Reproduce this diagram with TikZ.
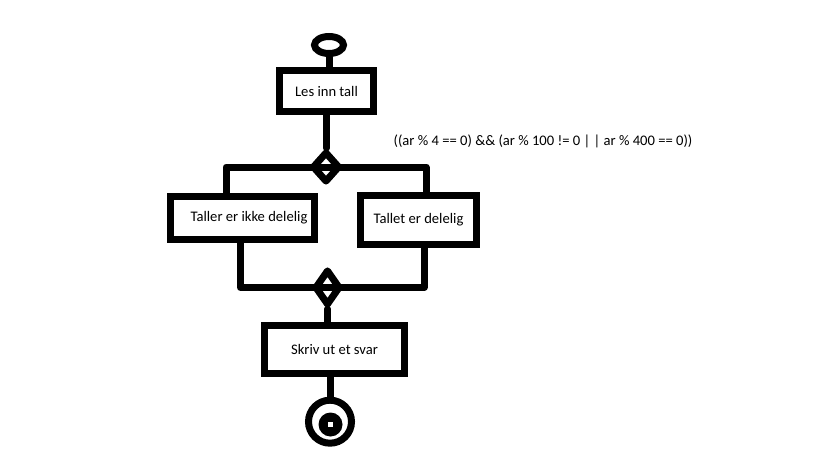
\documentclass[tikz,border=0pt]{standalone}
\usepackage{fontspec}
\setmainfont{Carlito}
\usetikzlibrary{shapes.geometric}
\begin{document}
\begin{tikzpicture}[x=1pt,y=-1pt,
  flow/.style={line width=7pt, line join=round, line cap=round},
  box/.style={draw, rectangle, line width=7pt, inner sep=0pt, font=\fontsize{14.6}{17}\selectfont},
  dia/.style={draw, diamond, line width=7pt, line join=round, inner sep=0pt},
  lbl/.style={font=\fontsize{14.6}{17}\selectfont, inner sep=0pt}]
\useasboundingbox[fill=white] (0,0) rectangle (819,460);
\node[draw, ellipse, line width=7pt, minimum width=29pt, minimum height=17pt, inner sep=0pt] (start) at (329,45) {};
\node[box, minimum width=94pt, minimum height=41pt] (les) at (326.5,91) {Les inn tall};
\node[dia, minimum width=28pt, minimum height=31pt] (d1) at (326,167) {};
\node[box, minimum width=144pt, minimum height=43pt] (lb) at (242.5,218) {\hspace{13pt}Taller er ikke delelig};
\node[box, minimum width=116pt, minimum height=49pt] (rb) at (418.5,220) {Tallet er delelig};
\node[dia, minimum width=26pt, minimum height=36pt] (d2) at (327.5,287.5) {};
\node[box, minimum width=140pt, minimum height=48pt] (sk) at (334.5,349.5) {Skriv ut et svar\hspace{6pt}};
\node[draw, circle, line width=7pt, minimum size=43pt, inner sep=0pt] (end) at (330,421.7) {};
\node[circle, fill=black, minimum size=24pt, inner sep=0pt] (endin) at (330.5,424.5) {};
\node[rectangle, fill=white, minimum width=5pt, minimum height=5pt, inner sep=0pt] (enddot) at (330.5,424) {};
\node[lbl] (cond) at (543,141) {((ar \% 4 == 0) \&\& (ar \% 100 != 0 | | ar \% 400 == 0))};
\draw[flow] (start.south) -- (start.south |- les.north);
\draw[flow] (les.south) -- (les.south |- d1.north);
\draw[flow] ([xshift=-16.5pt]lb.north) |- (d1.center) -| ([xshift=7.5pt]rb.north);
\draw[flow] ([xshift=-2pt]lb.south) |- (d2.center) -| ([xshift=5.5pt]rb.south);
\draw[flow] (d2.south) -- (d2.south |- sk.north);
\draw[flow] (end.north) -- (end.north |- sk.south);
\end{tikzpicture}
\end{document}
